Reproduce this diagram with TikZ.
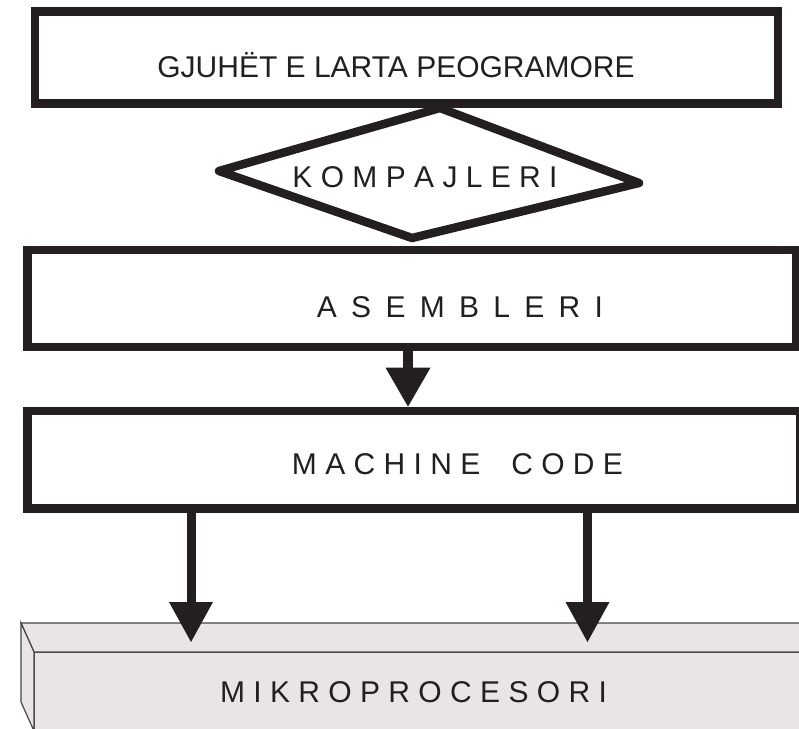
\documentclass[tikz,border=0pt]{standalone}
\usepackage{fontspec}
\setmainfont{Liberation Sans}
\usepackage{tikz}
\usetikzlibrary{arrows.meta}
\definecolor{ink}{RGB}{35,31,32}
\definecolor{chip}{RGB}{234,229,229}
\definecolor{chipedge}{RGB}{70,68,68}

\begin{document}
\begin{tikzpicture}[x=1pt, y=-1pt,
      box/.style={draw=ink, line width=8.7pt, inner sep=0pt},
      lbl/.style={text=ink, anchor=base, inner sep=0pt, font=\fontsize{30}{36}\selectfont},
      chipface/.style={draw=chipedge, fill=chip, line width=1.2pt, inner sep=0pt, outer sep=0pt},
      flow/.style={ink, line width=9pt, -{Triangle[width=44pt, length=40pt, line width=0pt]}}]
    \useasboundingbox (0,0) rectangle (799,728);
    \clip (0,0) rectangle (799,728);
    % mikroprocesori block
    \node[chipface, minimum width=786pt, minimum height=79pt] (mp) at (427,691.5) {};
    \draw[chipface] (mp.north west) -- ++(-13,-29) -- ++(800,0) -- (mp.north east) -- cycle;
    \draw[chipface] (mp.north west) -- ++(-13,-29) -- ([shift={(-13,-29)}]mp.south west)
      -- (mp.south west) -- cycle;
    % kompajleri
    \coordinate (dl) at (219,171);
    \coordinate (dt) at (440,108);
    \coordinate (dr) at (639,183);
    \coordinate (db) at (412,238);
    \draw[ink, line width=8.5pt, line join=round] (dl) -- (dt) -- (dr) -- (db) -- cycle;
    % boxes
    \node[box, minimum width=743pt, minimum height=92pt] (hll) at (406.5,57.5) {};
    \node[box, minimum width=768.5pt, minimum height=97pt] (asm) at (411.75,298.5) {};
    \node[box, minimum width=772.5pt, minimum height=97.5pt] (mc) at (413.75,459.75) {};
    % texts
    \node[lbl] (hlltxt) at (396,77) {GJUHËT E LARTA PEOGRAMORE};
    \node[lbl] (komptxt) at (425,187) {K O M P A J L E R I};
    \node[lbl] (asmtxt) at (460,317) {\spaceskip=14.3pt A S E M B L E R I};
    \node[lbl] (mctxt) at (457.5,474) {M A C H I N E\hspace{31pt}C O D E};
    \node[lbl] (mptxt) at (413.5,702) {M I K R O P R O C E S O R I};
    % arrows
    \coordinate (tipm) at (408,0);
    \draw[flow, line width=10pt, -{Triangle[width=45pt, length=39pt, line width=0pt]}]
      (asm.south -| tipm) -- (mc.north -| tipm);
    \foreach \n/\x in {l/191,r/587.5} {
      \coordinate (tip\n) at (\x,642);
      \draw[flow] (mc.south -| tip\n) -- (tip\n);
    }
\end{tikzpicture}
\end{document}
